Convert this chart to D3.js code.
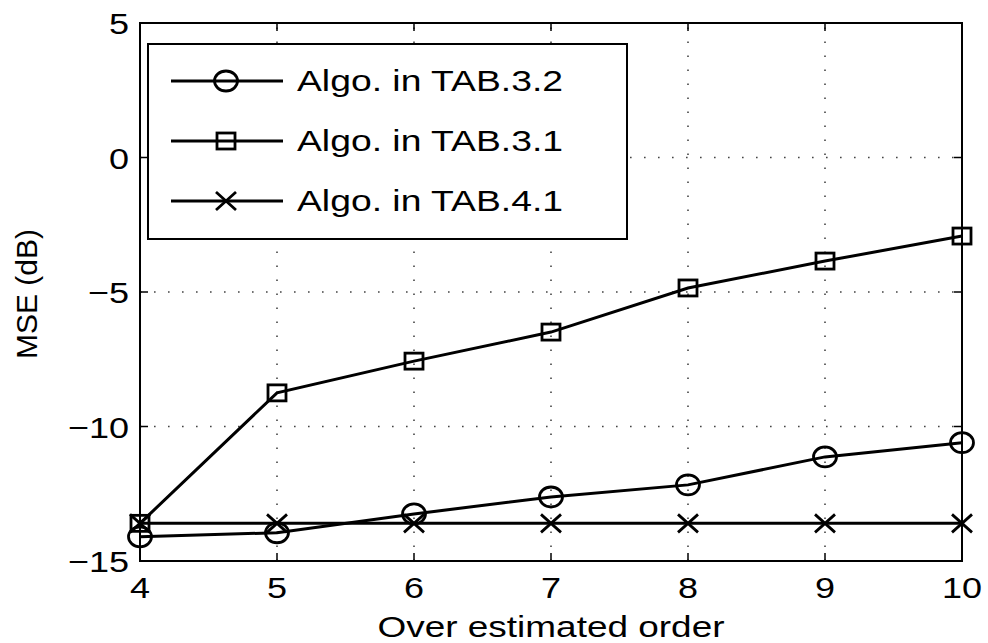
<!DOCTYPE html>
<html lang="en">
<head>
	<meta charset="UTF-8">
	<title>MSE vs order</title>
	<script type="text/javascript" src="https://d3js.org/d3.v7.min.js"></script>
	<style>
		body { margin: 0; background: #fff; }
		text { font-family: "Liberation Sans", Arial, sans-serif; fill: #000; }
	</style>
</head>
<body>
	<svg id="chart" width="988" height="643"></svg>

	<script>
		var orders = [4, 5, 6, 7, 8, 9, 10];
		var tab32 = [-14.1, -13.95, -13.25, -12.62, -12.17, -11.13, -10.6];
		var tab31 = [-13.6, -8.75, -7.57, -6.49, -4.85, -3.85, -2.92];
		var tab41 = [-13.6, -13.6, -13.6, -13.6, -13.6, -13.6, -13.6];
		var xTicks = [4, 5, 6, 7, 8, 9, 10];
		var yTicks = [5, 0, -5, -10, -15];
		var legendNames = ["Algo. in TAB.3.2", "Algo. in TAB.3.1", "Algo. in TAB.4.1"];

		var pLeft = 140, pRight = 962, pTop = 23, pBottom = 561;
		var svg = d3.select("#chart");

		var x = d3.scaleLinear().domain([4, 10]).range([pLeft, pRight]);
		var y = d3.scaleLinear().domain([-15, 5]).range([pBottom, pTop]);

		// grid, dotted
		var grid = svg.append("g").attr("stroke", "#444").attr("stroke-width", 1.6)
			.attr("stroke-dasharray", "1.6,12.4");
		xTicks.slice(1, -1).forEach(function(t) {
			grid.append("line").attr("x1", x(t)).attr("x2", x(t)).attr("y1", pBottom).attr("y2", pTop);
		});
		yTicks.slice(1, -1).forEach(function(t) {
			grid.append("line").attr("x1", pLeft).attr("x2", pRight).attr("y1", y(t)).attr("y2", y(t));
		});

		// box and inward ticks
		svg.append("rect").attr("x", pLeft).attr("y", pTop).attr("width", pRight - pLeft).attr("height", pBottom - pTop)
			.attr("fill", "none").attr("stroke", "#000").attr("stroke-width", 2);
		var ticks = svg.append("g").attr("stroke", "#000").attr("stroke-width", 1.5);
		xTicks.forEach(function(t) {
			ticks.append("line").attr("x1", x(t)).attr("x2", x(t)).attr("y1", pBottom).attr("y2", pBottom - 8);
			ticks.append("line").attr("x1", x(t)).attr("x2", x(t)).attr("y1", pTop).attr("y2", pTop + 8);
		});
		yTicks.forEach(function(t) {
			ticks.append("line").attr("x1", pLeft).attr("x2", pLeft + 8).attr("y1", y(t)).attr("y2", y(t));
			ticks.append("line").attr("x1", pRight).attr("x2", pRight - 8).attr("y1", y(t)).attr("y2", y(t));
		});

		// the picture's texts are a bit wider than the font, so stretch them sideways
		function wideText(px, py, anchor, str) {
			return svg.append("text")
				.attr("transform", "translate(" + px + "," + py + ") scale(1.2,1)")
				.attr("text-anchor", anchor).style("font-size", "30px").text(str);
		}

		// tick labels
		xTicks.forEach(function(d) { wideText(x(d), 598, "middle", d); });
		yTicks.forEach(function(d) {
			wideText(129, y(d) + 11, "end", d < 0 ? "\u2212" + (-d) : d);
		});

		svg.append("text").attr("x", 551).attr("y", 637)
			.attr("text-anchor", "middle").style("font-size", "30px")
			.attr("textLength", 347).attr("lengthAdjust", "spacingAndGlyphs")
			.text("Over estimated order");
		svg.append("text").attr("transform", "translate(37,294) rotate(-90)")
			.attr("text-anchor", "middle").style("font-size", "30px").text("MSE (dB)");

		// markers
		function drawMarker(g, kind, cx, cy) {
			if (kind == "circle") {
				g.append("ellipse").attr("cx", cx).attr("cy", cy).attr("rx", 11.5).attr("ry", 10)
					.attr("fill", "none").attr("stroke", "#000").attr("stroke-width", 2.8);
			} else if (kind == "square") {
				g.append("rect").attr("x", cx - 9).attr("y", cy - 8).attr("width", 18).attr("height", 16)
					.attr("fill", "none").attr("stroke", "#000").attr("stroke-width", 2.8);
			} else {
				g.append("path").attr("d", "M" + (cx - 10) + "," + (cy - 9) + "L" + (cx + 10) + "," + (cy + 9) +
					"M" + (cx - 10) + "," + (cy + 9) + "L" + (cx + 10) + "," + (cy - 9))
					.attr("stroke", "#000").attr("stroke-width", 2.8);
			}
		}

		var series = [
			{ values: tab32, marker: "circle" },
			{ values: tab31, marker: "square" },
			{ values: tab41, marker: "cross" }
		];
		var line = d3.line().x(function(d, i) { return x(orders[i]); }).y(function(d) { return y(d); });
		series.forEach(function(s) {
			var g = svg.append("g");
			g.append("path").datum(s.values).attr("d", line)
				.attr("fill", "none").attr("stroke", "#000").attr("stroke-width", 3);
			s.values.forEach(function(v, i) { drawMarker(g, s.marker, x(orders[i]), y(v)); });
		});

		// legend
		var lg = svg.append("g");
		lg.append("rect").attr("x", 148).attr("y", 44).attr("width", 479).attr("height", 195)
			.attr("fill", "#fff").attr("stroke", "#000").attr("stroke-width", 2);
		legendNames.forEach(function(name, i) {
			var ly = 81 + i * 60;
			lg.append("line").attr("x1", 171).attr("x2", 283).attr("y1", ly).attr("y2", ly)
				.attr("stroke", "#000").attr("stroke-width", 3);
			drawMarker(lg, series[i].marker, 226, ly);
			lg.append("text").attr("x", 297).attr("y", ly + 10).style("font-size", "30px")
				.attr("textLength", 266).attr("lengthAdjust", "spacingAndGlyphs").text(name);
		});
	</script>
</body>
</html>
